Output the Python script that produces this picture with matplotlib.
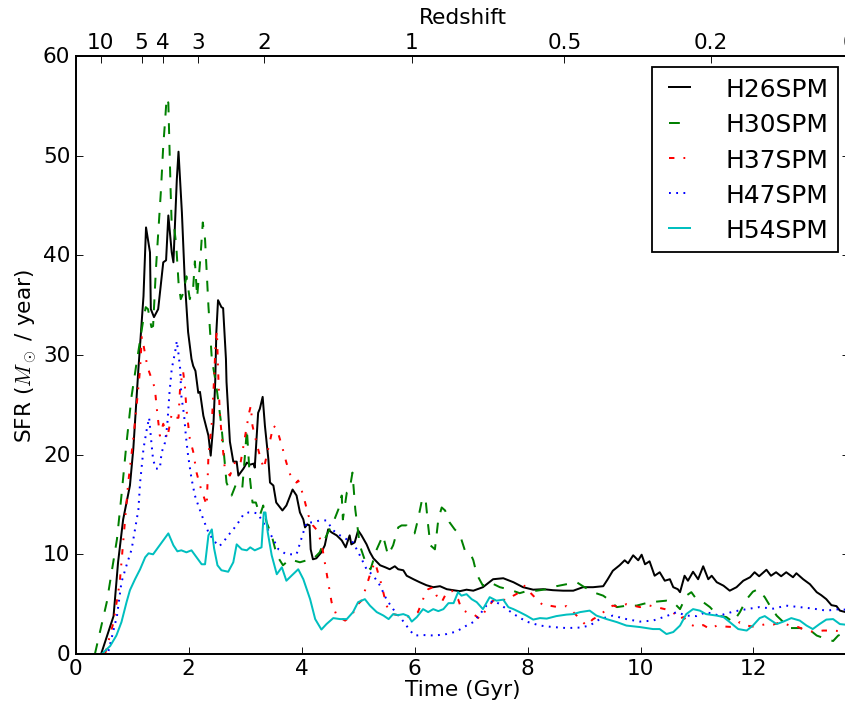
import numpy as np
import matplotlib
matplotlib.use('Agg')
import matplotlib.pyplot as plt

plt.style.use('classic')

# H26SPM
t26 = [0.45, 0.67, 0.75, 0.84, 0.96, 1.02, 1.11, 1.2, 1.245, 1.315, 1.33, 1.386, 1.46, 1.55, 1.6, 1.64,
       1.7, 1.73, 1.79, 1.82, 1.88, 1.93, 1.99, 2.05, 2.08, 2.12, 2.17, 2.2, 2.26, 2.35, 2.39, 2.44, 2.47,
       2.49, 2.52, 2.58, 2.61, 2.66, 2.67, 2.73, 2.79, 2.85, 2.88, 2.97, 3.03, 3.09, 3.15, 3.17, 3.23, 3.26,
       3.31, 3.35, 3.41, 3.44, 3.5, 3.55, 3.66, 3.73, 3.84, 3.91, 3.97, 4.03, 4.06, 4.1, 4.14, 4.16, 4.2,
       4.26, 4.35, 4.41, 4.47, 4.53, 4.62, 4.71, 4.78, 4.85, 4.88, 4.94, 5.0, 5.06, 5.15, 5.21, 5.27, 5.39,
       5.48, 5.56, 5.65, 5.71, 5.8, 5.86, 5.98, 6.09, 6.21, 6.33, 6.45, 6.57, 6.69, 6.8, 6.92, 7.04, 7.21,
       7.39, 7.57, 7.75, 7.92, 8.1, 8.28, 8.45, 8.63, 8.81, 8.98, 9.16, 9.34, 9.42, 9.51, 9.63, 9.72, 9.78,
       9.87, 9.96, 10.02, 10.08, 10.16, 10.25, 10.34, 10.43, 10.52, 10.58, 10.66, 10.7, 10.78, 10.84, 10.93,
       11.02, 11.11, 11.2, 11.26, 11.35, 11.47, 11.58, 11.7, 11.82, 11.94, 12.02, 12.1, 12.23, 12.31, 12.4,
       12.49, 12.58, 12.7, 12.76, 12.88, 13.0, 13.12, 13.2, 13.29, 13.38, 13.47, 13.53, 13.7]
sfr26 = [0.0, 3.8, 9.2, 13.5, 16.9, 20.6, 28.6, 35.9, 42.8, 40.3, 34.6, 33.8, 34.6, 39.3, 39.5, 44.0,
         40.3, 39.3, 47.6, 50.4, 44.3, 37.6, 32.3, 29.6, 28.9, 28.4, 26.2, 26.3, 23.9, 21.9, 19.9, 23.2, 27.3,
         32.3, 35.5, 34.8, 34.7, 29.6, 27.3, 21.3, 19.3, 19.3, 17.9, 18.6, 19.2, 19.0, 19.1, 18.7, 24.2, 24.6,
         25.8, 22.9, 19.6, 17.2, 16.9, 15.2, 14.4, 14.9, 16.5, 15.9, 14.2, 13.5, 12.7, 13.0, 12.9, 10.5, 9.5,
         9.6, 10.2, 10.9, 12.5, 12.2, 11.9, 11.4, 10.7, 11.9, 11.0, 11.2, 12.4, 11.9, 11.0, 10.2, 9.6, 8.9,
         8.7, 8.5, 8.8, 8.5, 8.4, 7.85, 7.5, 7.2, 6.9, 6.7, 6.8, 6.5, 6.4, 6.3, 6.45, 6.35, 6.7,
         7.5, 7.6, 7.2, 6.7, 6.45, 6.5, 6.4, 6.35, 6.35, 6.7, 6.7, 6.8, 7.5, 8.35, 8.9, 9.4, 9.1,
         9.9, 9.4, 9.96, 9.0, 9.3, 7.85, 8.2, 7.35, 7.5, 6.7, 6.5, 6.2, 7.85, 7.35, 8.25,
         7.5, 8.8, 7.5, 7.85, 7.2, 6.85, 6.35, 6.7, 7.35, 7.7, 8.2, 7.8, 8.45, 7.85, 8.2,
         7.8, 8.2, 7.7, 8.1, 7.5, 7.0, 6.2, 5.9, 5.5, 4.9, 4.8, 4.35, 4.1]

# H30SPM
t30 = [0.34, 0.55, 0.73, 0.81, 0.9, 0.99, 1.08, 1.19, 1.24, 1.28, 1.34, 1.37, 1.42, 1.47, 1.51, 1.55,
       1.58, 1.61, 1.64, 1.66, 1.68, 1.7, 1.74, 1.78, 1.82, 1.86, 1.91, 1.96, 2.02, 2.08, 2.11, 2.15, 2.21,
       2.25, 2.29, 2.32, 2.35, 2.38, 2.41, 2.49, 2.58, 2.67, 2.76, 2.85, 2.95, 3.0, 3.03, 3.08, 3.13, 3.19,
       3.26, 3.32, 3.38, 3.47, 3.56, 3.67, 3.79, 3.97, 4.09, 4.2, 4.32, 4.44, 4.56, 4.65, 4.71, 4.73, 4.8,
       4.85, 4.9, 4.95, 5.03, 5.15, 5.22, 5.33, 5.44, 5.53, 5.62, 5.71, 5.77, 5.86, 5.95, 6.0, 6.06, 6.14,
       6.2, 6.24, 6.28, 6.36, 6.42, 6.48, 6.54, 6.62, 6.71, 6.8, 6.89, 6.98, 7.04, 7.1, 7.21, 7.33, 7.51,
       7.69, 7.86, 7.98, 8.16, 8.34, 8.51, 8.69, 8.87, 8.98, 9.16, 9.34, 9.46, 9.58, 9.76, 9.93, 10.1, 10.28,
       10.46, 10.58, 10.7, 10.81, 10.9, 10.99, 11.11, 11.23, 11.37, 11.52, 11.64, 11.76, 11.88, 11.99, 12.08,
       12.2, 12.29, 12.41, 12.53, 12.64, 12.82, 13.0, 13.12, 13.29, 13.41, 13.5, 13.7]
sfr30 = [0.0, 5.2, 11.5, 15.9, 21.2, 25.9, 29.3, 33.3, 34.8, 34.6, 32.8, 32.9, 38.6, 43.0, 46.6, 51.0,
         53.3, 55.8, 55.3, 51.0, 46.6, 43.0, 43.0, 41.0, 37.3, 35.6, 36.3, 37.9, 35.6, 36.8, 39.4, 35.8, 39.9,
         43.3, 41.6, 38.3, 34.9, 32.3, 29.6, 26.9, 22.9, 17.2, 15.9, 17.2, 16.7, 20.2, 22.6, 17.9, 15.2, 15.2,
         13.9, 14.9, 13.2, 11.9, 9.9, 8.9, 9.5, 9.2, 9.4, 9.5, 10.2, 11.9, 13.2, 14.5, 15.9, 13.5, 16.2,
         16.5, 18.2, 14.5, 10.9, 8.9, 8.5, 10.5, 11.9, 9.9, 10.9, 12.7, 12.9, 12.9, 12.2, 12.1, 13.5, 15.7,
         15.2, 12.9, 10.9, 10.5, 13.5, 14.7, 14.4, 13.2, 12.5, 12.0, 10.4, 10.2, 9.4, 8.0, 6.85, 7.2, 6.7,
         6.45, 6.1, 6.3, 6.35, 6.5, 6.8, 7.0, 7.2, 6.8, 6.2, 5.85, 5.35, 4.7, 4.85, 4.85, 5.1, 5.25,
         5.35, 5.2, 4.5, 5.85, 6.2, 5.5, 5.2, 4.7, 3.85, 3.7, 3.2, 4.2, 5.5, 6.25, 6.5,
         5.7, 4.85, 3.85, 3.2, 2.6, 2.6, 2.4, 1.85, 1.5, 1.3, 1.85, 2.3]

# H37SPM
t37 = [0.52, 0.67, 0.78, 0.87, 0.93, 1.02, 1.09, 1.14, 1.17, 1.2, 1.27, 1.4, 1.44, 1.49, 1.55, 1.62,
       1.7, 1.75, 1.82, 1.85, 1.9, 1.93, 1.96, 2.02, 2.08, 2.14, 2.2, 2.26, 2.32, 2.35, 2.41, 2.45, 2.48,
       2.5, 2.52, 2.55, 2.6, 2.64, 2.73, 2.82, 2.91, 3.0, 3.07, 3.1, 3.13, 3.2, 3.26, 3.33, 3.41, 3.5,
       3.56, 3.65, 3.73, 3.82, 3.91, 3.94, 4.03, 4.12, 4.2, 4.26, 4.35, 4.41, 4.47, 4.53, 4.62, 4.77,
       4.89, 4.97, 5.06, 5.15, 5.24, 5.3, 5.35, 5.42, 5.5, 5.62, 5.74, 5.86, 5.95, 6.06, 6.15, 6.24, 6.33,
       6.39, 6.48, 6.57, 6.66, 6.77, 6.83, 6.92, 7.04, 7.16, 7.27, 7.39, 7.51, 7.63, 7.75, 7.86, 7.95,
       8.04, 8.16, 8.28, 8.39, 8.54, 8.69, 8.81, 8.93, 9.04, 9.16, 9.28, 9.4, 9.51, 9.63, 9.75, 9.87, 9.99,
       10.13, 10.28, 10.43, 10.58, 10.67, 10.76, 10.87, 10.99, 11.11, 11.23, 11.35, 11.5, 11.64, 11.76,
       11.88, 11.99, 12.1, 12.23, 12.35, 12.49, 12.64, 12.79, 12.94, 13.08, 13.23, 13.41, 13.7]
sfr37 = [0.0, 3.2, 7.2, 13.2, 17.2, 21.6, 25.6, 28.6, 31.8, 31.0, 28.8, 26.7, 24.4, 21.9, 23.1, 21.6,
         24.1, 23.7, 23.7, 26.9, 28.4, 27.1, 24.6, 21.6, 20.3, 18.2, 16.9, 15.9, 14.9, 19.9, 23.2, 27.6, 31.6,
         32.4, 28.6, 24.2, 20.9, 18.6, 17.9, 19.2, 18.9, 21.9, 24.2, 24.9, 22.9, 21.2, 19.9, 18.6, 20.6, 22.9,
         22.6, 20.9, 19.2, 17.6, 17.2, 17.4, 15.9, 13.9, 12.9, 12.5, 11.2, 9.2, 7.2, 5.2, 3.85, 3.35,
         3.85, 4.85, 5.35, 6.85, 8.5, 9.2, 8.2, 6.85, 4.85, 4.0, 3.85, 3.7, 3.8, 4.2, 5.5, 6.5, 6.7,
         5.85, 5.2, 6.2, 6.35, 5.5, 4.5, 4.2, 4.0, 3.5, 4.5, 5.35, 5.5, 5.4, 5.85, 6.2, 6.85,
         6.2, 5.5, 4.85, 4.85, 4.7, 4.8, 4.2, 3.5, 2.85, 3.5, 3.85, 4.5, 4.85, 4.7, 5.0, 4.85, 4.7,
         4.9, 4.7, 4.5, 4.2, 3.5, 3.7, 3.0, 2.7, 2.9, 2.5, 2.85, 2.75, 2.7, 3.2,
         2.85, 2.75, 2.85, 3.0, 2.95, 3.2, 2.85, 2.7, 2.35, 2.2, 2.35, 2.35, 2.2]

# H47SPM
t47 = [0.58, 0.73, 0.81, 0.9, 0.99, 1.11, 1.14, 1.2, 1.26, 1.3, 1.34, 1.37, 1.42, 1.49, 1.52, 1.58,
       1.62, 1.66, 1.7, 1.76, 1.79, 1.82, 1.85, 1.87, 1.92, 1.95, 1.99, 2.05, 2.11, 2.17, 2.26, 2.35, 2.44,
       2.54, 2.61, 2.7, 2.79, 2.88, 2.97, 3.06, 3.14, 3.22, 3.32, 3.41, 3.5, 3.59, 3.73, 3.91, 4.03, 4.09,
       4.2, 4.32, 4.44, 4.56, 4.68, 4.8, 4.91, 5.03, 5.15, 5.27, 5.39, 5.5, 5.62, 5.77, 5.92, 6.0, 6.15,
       6.36, 6.57, 6.74, 6.92, 7.04, 7.16, 7.27, 7.39, 7.51, 7.63, 7.8, 7.98, 8.22, 8.45, 8.69, 8.93, 9.1,
       9.28, 9.51, 9.75, 9.99, 10.22, 10.46, 10.64, 10.81, 10.99, 11.16, 11.4, 11.64, 11.88, 12.1, 12.35,
       12.58, 12.82, 13.06, 13.29, 13.53, 13.7]
sfr47 = [0.3, 3.8, 7.2, 8.9, 10.5, 14.5, 17.2, 20.6, 22.6, 23.7, 21.2, 19.5, 18.6, 18.6, 20.2, 21.2,
         22.9, 26.2, 28.6, 30.3, 31.4, 30.1, 28.6, 25.9, 23.9, 21.9, 19.9, 17.6, 15.9, 14.9, 13.5, 12.2, 11.4,
         10.8, 11.2, 11.9, 12.5, 13.2, 14.0, 14.2, 14.2, 14.1, 13.2, 12.4, 11.5, 10.5, 10.0, 10.0, 12.2, 13.2,
         13.2, 13.4, 13.4, 12.4, 11.9, 11.5, 11.2, 9.9, 8.5, 7.85, 6.85, 5.5, 4.5, 3.5, 2.35, 1.85, 1.9,
         1.85, 2.0, 2.25, 2.85, 3.2, 4.0, 4.85, 5.35, 5.0, 4.5, 3.85, 3.25, 2.85, 2.7, 2.6, 2.65, 2.85,
         3.5, 3.85, 3.5, 3.25, 3.35, 3.8, 4.2, 3.85, 3.8, 4.2, 3.85, 4.25, 4.5, 4.7, 4.55,
         4.85, 4.7, 4.55, 4.35, 4.5, 4.4]

# H54SPM
t54 = [0.46, 0.61, 0.72, 0.81, 0.9, 0.96, 1.05, 1.14, 1.23, 1.29, 1.37, 1.46, 1.55, 1.64, 1.73, 1.8,
       1.87, 1.96, 2.05, 2.14, 2.23, 2.29, 2.35, 2.41, 2.45, 2.51, 2.58, 2.7, 2.79, 2.85, 2.94, 3.03, 3.09,
       3.17, 3.29, 3.33, 3.36, 3.4, 3.47, 3.56, 3.65, 3.73, 3.82, 3.94, 4.03, 4.15, 4.24, 4.35, 4.44, 4.56,
       4.68, 4.8, 4.91, 5.0, 5.12, 5.21, 5.33, 5.45, 5.54, 5.62, 5.71, 5.8, 5.89, 5.95, 6.04, 6.15, 6.24,
       6.33, 6.42, 6.51, 6.6, 6.69, 6.77, 6.83, 6.92, 7.01, 7.1, 7.21, 7.33, 7.45, 7.57, 7.66, 7.75, 7.86,
       7.98, 8.1, 8.22, 8.34, 8.51, 8.69, 8.81, 8.93, 9.1, 9.22, 9.4, 9.58, 9.75, 9.99, 10.22, 10.34, 10.46,
       10.58, 10.7, 10.81, 10.93, 11.05, 11.16, 11.35, 11.47, 11.58, 11.73, 11.88, 11.99, 12.11, 12.2, 12.29,
       12.41, 12.53, 12.67, 12.82, 12.94, 13.05, 13.17, 13.29, 13.41, 13.53, 13.7]
sfr54 = [0.0, 0.8, 1.85, 3.2, 5.2, 6.4, 7.5, 8.5, 9.7, 10.1, 10.0, 10.7, 11.4, 12.1, 10.9, 10.3,
         10.4, 10.2, 10.4, 9.7, 9.0, 9.0, 11.9, 12.5, 10.6, 8.9, 8.4, 8.25, 9.2, 11.0, 10.5, 10.4, 10.7,
         10.4, 10.7, 14.2, 14.2, 12.2, 9.9, 8.0, 8.7, 7.35, 7.85, 8.5, 7.5, 5.5, 3.5, 2.45, 3.0, 3.6,
         3.5, 3.5, 4.2, 5.2, 5.5, 4.85, 4.2, 3.85, 3.5, 4.0, 3.9, 4.0, 3.8, 3.25, 3.7, 4.5, 4.2,
         4.5, 4.3, 4.5, 5.1, 5.1, 6.2, 5.85, 6.0, 5.5, 5.2, 4.5, 5.7, 5.35, 5.45, 4.7, 4.5, 4.2,
         3.85, 3.45, 3.6, 3.55, 3.8, 3.95, 4.0, 4.2, 4.35, 3.85, 3.5, 3.2, 2.85, 2.7, 2.5, 2.5, 2.0,
         2.2, 2.85, 4.0, 4.5, 4.35, 4.0, 3.85, 3.7, 3.2, 2.5, 2.35, 2.85, 3.6, 3.8, 3.45,
         3.0, 3.25, 3.6, 3.35, 2.85, 2.5, 3.0, 3.45, 3.5, 3.0, 2.9]

# redshift ticks on top axis (age in Gyr)
z_labels = ['10', '5', '4', '3', '2', '1', '0.5', '0.2', '0']
z_ages = [0.44, 1.168, 1.55, 2.17, 3.34, 5.95, 8.65, 11.24, 13.7]

plt.rcParams['xtick.major.pad'] = 2
plt.rcParams['ytick.major.pad'] = 3

fig = plt.figure(figsize=(6.5, 5.446), dpi=130, facecolor='w')
ax = fig.add_axes([0.0896, 0.0749, 0.9157, 0.8446])

ax.plot(t26, sfr26, 'k-', lw=1.1, label='H26SPM')
ax.plot(t30, sfr30, 'g--', lw=1.1, label='H30SPM')
ax.plot(t37, sfr37, 'r-.', lw=1.1, label='H37SPM')
ax.plot(t47, sfr47, 'b:', lw=1.1, label='H47SPM')
ax.plot(t54, sfr54, 'c-', lw=1.1, label='H54SPM')

ax.set_xlim(0, 13.7)
ax.set_ylim(0, 60)
ax.set_xticks([0, 2, 4, 6, 8, 10, 12])
ax.set_xlabel('Time (Gyr)', labelpad=1)
ax.set_ylabel(r'SFR ($M_\odot$ / year)', labelpad=2)

ax2 = ax.twiny()
ax2.set_xlim(ax.get_xlim())
ax2.set_xticks(z_ages)
ax2.set_xticklabels(z_labels)
ax2.set_xlabel('Redshift', labelpad=5)

ax.legend(loc='upper right', fontsize=13.8, handlelength=1.45, handletextpad=1.1,
          borderpad=0.4, borderaxespad=0.45, labelspacing=0.45)

fig.savefig('out.png', dpi=130, facecolor='w')
